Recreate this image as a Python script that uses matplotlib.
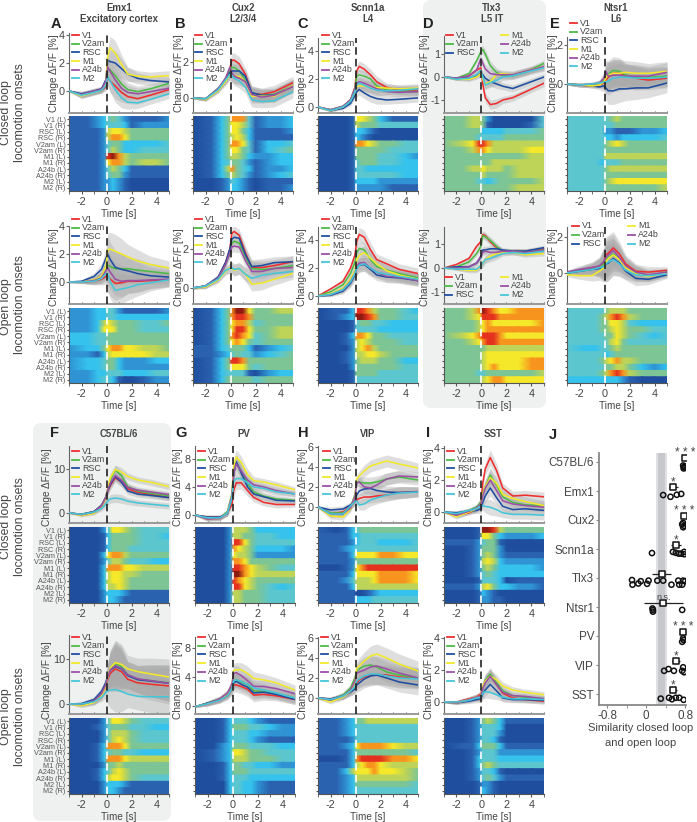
import numpy as np
import matplotlib
matplotlib.use("Agg")
import matplotlib.pyplot as plt
from matplotlib.colors import LinearSegmentedColormap
from matplotlib.lines import Line2D
from matplotlib.patches import FancyBboxPatch

plt.rcParams["font.family"] = ["Liberation Sans", "DejaVu Sans"]
plt.rcParams["axes.unicode_minus"] = False

W, H = 697, 822
TXT = "#444444"

SERIES = ["V1", "V2am", "RSC", "M1", "A24b", "M2"]
COLORS = ["#ee2e2f", "#4dbb47", "#1f4ea1", "#f2e92a", "#9b4fa5", "#45c6d8"]
ROWS = ["V1 (L)", "V1 (R)", "RSC (L)", "RSC (R)", "V2am (L)", "V2am (R)",
        "M1 (L)", "M1 (R)", "A24b (L)", "A24b (R)", "M2 (L)", "M2 (R)"]

# times the curves were read at
T = [-3, -2, -1, -0.4, -0.05, 0.1, 0.3, 0.7, 1.2, 1.7, 2.5, 3.5, 5]
# times the heatmap rows were read at, one hex digit per time
HT = [-3, -1.5, -0.7, -0.15, 0.1, 0.5, 1, 1.5, 2, 3, 4, 5]
HEAT_COLORS = ["#1f4e9e", "#2a62b0", "#2f93d4", "#35c3ee", "#5cc6cf", "#7cc596",
               "#bdd458", "#f5ea2a", "#f7941e", "#e6321f", "#8f1a12"]

A_CL = [[0, -.25, -.05, .05, .3, .95, .7, .35, -.1, -.4, -.55, -.3, .1],
        [0, -.3, -.05, .1, .5, 1.6, 1.5, 1.1, .5, .1, -.05, .15, .55],
        [0, -.2, 0, .15, .8, 2.2, 2.1, 2.0, 1.6, 1.2, .9, .75, .65],
        [0, -.35, -.1, .05, .6, 2.5, 3.1, 2.7, 1.9, 1.2, 1.05, 1, 1.1],
        [0, -.25, 0, .1, .7, 1.7, 1.4, .8, .2, -.1, -.2, -.05, .2],
        [0, -.3, -.1, .05, .4, 1, .7, .1, -.5, -.8, -.85, -.6, -.2]]
A_CL_BAND = [.05, .2, .2, .2, .3, .6, .8, .9, .7, .5, .4, .35, .35]
A_CL_HEAT = ["112345421112", "112344431222", "111267765555", "111268875555",
             "111245533334", "111246533444", "11129a865555", "111278865665",
             "111246531111", "111245521111", "111223210000", "111223210000"]
A_OL = [[0, 0, .05, .2, .4, .45, .2, -.1, -.05, .05, .05, .1, .15],
        [0, 0, .1, .4, .9, 1.2, 1.1, .95, .95, .95, .85, .75, .6],
        [0, .05, .4, .9, 1.7, 2, 1.6, 1.05, .9, .8, .6, .45, .35],
        [0, 0, .15, .4, 1.1, 2.3, 2.35, 2.2, 2, 1.8, 1.5, 1.25, 1],
        [0, 0, .1, .3, .8, 1, .7, .2, .05, .1, .1, .15, .2],
        [0, 0, .05, .25, .6, .6, 0, -.6, -.5, -.4, -.2, -.05, .15]]
A_OL_BAND = [.05, .1, .25, .4, .6, 1.2, 1.2, 1.2, 1.1, .9, .8, .6, .5]
A_OL_HEAT = ["223344211112", "223344333333", "223676555445", "223777555444",
             "334455555555", "334455555555", "233578877665", "221367777766",
             "233455322233", "233455322222", "223344433344", "223443100122"]

B_CL = [[0, -.05, .5, 1.0, 1.6, 2.1, 2.1, 1.9, 1.3, .25, .2, .35, .85],
        [0, -.05, .5, 1, 1.5, 1.7, 1.7, 1.5, 1, .2, .15, .2, .7],
        [0, -.05, .5, 1, 1.4, 1.5, 1.5, 1.5, 1.2, .3, .15, .15, .65],
        [0, -.1, .4, .9, 1.3, 1.3, 1.2, 1.2, .9, .1, .1, .1, .7],
        [0, -.05, .5, 1.1, 1.7, 1.4, 1.2, 1.1, .9, .2, .05, .15, .65],
        [0, -.05, .45, 1, 1.3, 1.25, 1.1, .95, .6, -.1, -.2, -.15, .35]]
B_CL_BAND = [.05, .1, .15, .2, .3, .4, .4, .4, .35, .4, .35, .35, .35]
B_CL_HEAT = ["013588841223", "013577641223", "013577531112", "013567631111",
             "013588741334", "013577541345", "013566532233", "013455421233",
             "013685431223", "013565421234", "001243210111", "001233210112"]
B_OL = [[0, .1, .5, 1.3, 2, 2.8, 2.9, 2.7, 1.8, 1.05, 1.05, 1.15, 1.35],
        [0, .1, .5, 1.2, 1.8, 2.3, 2.4, 2.3, 1.6, 1, .95, 1, 1.15],
        [0, .1, .55, 1.3, 2, 2.5, 2.6, 2.55, 1.7, 1.1, 1.15, 1.3, 1.35],
        [0, .05, .4, .85, 1.05, 1, .9, 1, .7, .2, .25, .45, .75],
        [0, .1, .5, 1.2, 1.8, 2.1, 2.15, 2.1, 1.4, .85, .85, 1, 1.05],
        [0, .1, .45, .9, 1, 1.05, .95, 1, .7, .5, .65, .75, .85]]
B_OL_BAND = [.05, .1, .15, .2, .25, .3, .3, .3, .35, .35, .35, .3, .3]
B_OL_HEAT = ["01358aa75566", "013589985555", "013578864555", "013579975566",
             "013589874566", "013578754555", "113455531234", "112345442345",
             "013599855555", "013577754555", "013444410233", "013555554555"]

C_CL = [[0, -.2, .05, .5, 1.4, 2.6, 2.9, 2.7, 2.3, 1.8, 1.4, 1.2, 1.2],
        [0, -.2, .05, .5, 1.3, 2.2, 2.3, 2.2, 2, 1.5, 1.2, 1.15, 1.1],
        [0, -.25, -.1, .25, .8, 1.1, 1.25, 1, .75, .6, .5, .55, .65],
        [0, -.25, 0, .45, 1.1, 1.5, 1.5, 1.5, 1.45, 1.4, 1.35, 1.3, 1.35],
        [0, -.2, .05, .5, 1.3, 1.7, 1.8, 1.7, 1.5, 1.3, 1.1, 1.05, 1.1],
        [0, -.25, 0, .4, 1.1, 1.6, 1.7, 1.55, 1.35, 1.2, 1.15, 1.2, 1.3]]
C_CL_BAND = [.05, .1, .1, .15, .25, .4, .4, .4, .4, .4, .3, .3, .3]
C_CL_HEAT = ["000177653111", "000165554444", "000133210000", "000132100000",
             "000188765544", "000155555444", "000155554432", "000145554433",
             "000144333333", "000144444433", "000133332222", "000122222111"]
C_OL = [[0, .5, 1.05, 2, 2.9, 3.9, 4.4, 4.2, 3.3, 2.6, 2.3, 1.9, 1.6],
        [0, .3, .8, 1.6, 2.4, 3.1, 3.4, 3.3, 2.6, 2.1, 1.85, 1.6, 1.3],
        [0, .05, .35, .9, 1.5, 2, 2.2, 2.25, 1.9, 1.5, 1.35, 1.3, 1.1],
        [0, .15, .55, 1.2, 1.8, 2.6, 2.9, 3.1, 2.7, 2.3, 1.8, 1.5, 1.2],
        [0, .1, .45, 1.05, 1.6, 2.1, 2.35, 2.4, 2, 1.7, 1.4, 1.35, 1.1],
        [0, .1, .45, 1, 1.6, 2, 2.2, 2.3, 2, 1.7, 1.55, 1.4, 1.2]]
C_OL_BAND = [.05, .1, .2, .3, .4, .5, .5, .5, .5, .4, .4, .4, .4]
C_OL_HEAT = ["011399865543", "0123aa985544", "000145544333", "000144443333",
             "001388755444", "001267655544", "000267865555", "001266776555",
             "001256665533", "000255555544", "000155554444", "000144444444"]

D_CL = [[0, -.1, .05, .3, .4, -.3, -.9, -1.2, -1.15, -1, -.9, -.65, -.27],
        [0, -.05, .15, .7, 1.1, 1.2, 1, .5, .2, .05, .05, .2, .6],
        [0, -.05, -.05, .05, .15, .1, -.05, -.2, -.3, -.4, -.5, -.3, 0],
        [0, -.1, -.1, 0, .15, -.1, -.3, -.2, .1, .15, .1, .25, .45],
        [0, -.05, .05, .3, .8, .6, .35, .15, .1, .1, .1, .25, .45],
        [0, -.1, -.05, .1, .3, 0, -.35, -.25, -.15, 0, .05, .2, .4]]
D_CL_BAND = [.02, .05, .1, .1, .15, .2, .2, .2, .2, .15, .15, .15, .15]
D_CL_HEAT = ["556652000004", "556651000014", "555533334445", "555444445555",
             "567998666666", "556887666677", "555555555566", "555555666666",
             "556676665666", "555565555666", "555443455556", "555555555666"]
D_OL = [[0, .15, .4, .9, 1.1, 1.4, 1.35, 1.1, .85, .7, .7, .7, .8],
        [0, .05, .25, .6, .9, 1.35, 1.3, 1.15, .9, .7, .7, .7, .75],
        [0, .05, .05, .2, .45, .75, .75, .8, .8, .75, .7, .7, .85],
        [0, -.05, -.1, -.1, .1, .2, .35, .5, .6, .65, .65, .55, .6],
        [0, 0, .05, .2, .5, .65, .7, .65, .65, .7, .7, .65, .75],
        [0, -.05, -.05, -.05, .1, .2, .35, .4, .5, .6, .65, .6, .7]]
D_OL_BAND = [.02, .05, .1, .1, .15, .15, .15, .15, .15, .1, .1, .1, .1]
D_OL_HEAT = ["5568a9877888", "556799988888", "555678777778", "555678888888",
             "567899987777", "556789988888", "555556666666", "555567777777",
             "555567777788", "555567877788", "555445555556", "555567887777"]

E_CL = [[0, -.05, -.1, -.05, .05, .2, .35, .55, .55, .45, .3, .2, .3],
        [0, -.05, -.05, .05, .2, .5, .5, .7, .65, .45, .35, .35, .4],
        [0, -.05, -.1, -.15, -.1, -.2, -.35, -.35, -.25, -.25, -.2, -.2, .05],
        [0, -.05, -.1, -.05, .1, .3, .45, .55, .55, .6, .55, .55, .65],
        [0, -.05, 0, .05, .3, .65, .4, .45, .45, .4, .4, .4, .6],
        [0, -.05, 0, .05, .1, .1, .15, .3, .35, .35, .3, .3, .35]]
E_CL_BAND = [.05, .1, .1, .15, .3, .6, .7, .7, .7, .6, .6, .5, .5]
E_CL_HEAT = ["444445655555", "444444555555", "444422111223", "444433233334",
             "444456765555", "444455555555", "444466666666", "444344455555",
             "444456666666", "444455555555", "444456777777", "444455555556"]
E_OL = [[.05, .15, .3, .35, .6, 1, 1.1, 1.4, 1.05, .5, .1, .05, .15],
        [0, .1, .2, .3, .5, .75, .85, 1.05, .8, .35, 0, -.15, .05],
        [0, .1, .2, .25, .35, .5, .55, .8, .55, .1, -.3, -.35, -.1],
        [-.1, -.15, -.15, .1, .3, .6, .8, 1.0, .75, .3, -.05, -.2, 0],
        [.05, .2, .3, .4, .65, .85, 1, 1.25, .85, .4, .05, -.1, .05],
        [0, .1, .2, .3, .35, .5, .6, .75, .5, .15, -.1, -.15, -.05]]
E_OL_BAND = [.1, .2, .3, .5, .8, 1, 1, .9, .7, .5, .4, .3, .2]
E_OL_HEAT = ["444456665555", "444568986555", "444557764333", "444556765544",
             "444455765434", "444446754444", "433445655555", "444434555555",
             "444567866555", "444455665323", "444568986555", "333333321000"]

F_CL = [[0, -.3, .3, 1.7, 3.5, 5, 6.2, 8, 7, 5.5, 4.7, 4.3, 3.5],
        [0, -.3, .3, 1.7, 3.7, 5.5, 7.5, 9.8, 8.5, 6, 5, 4.5, 3.9],
        [0, -.3, .3, 1.7, 3.5, 5, 6.5, 8.3, 7, 5, 4.3, 4, 3.5],
        [0, -.6, -.1, 1.4, 3.3, 5.5, 8, 9.9, 9.3, 8.3, 7.5, 7, 6],
        [0, -.4, .2, 1.6, 3.6, 5.3, 6.8, 8.5, 7.5, 5.8, 5.2, 4.8, 4.2],
        [0, -.3, .2, 1, 2, 2.7, 3.2, 3.4, 3.2, 2.7, 2.3, 2, 1.6]]
F_CL_BAND = [.1, .3, .4, .6, .8, 1, 1, 1, 1, .8, .7, .7, .7]
F_CL_HEAT = ["000237765444", "000135555443", "000135555444", "000135554444",
             "000378865555", "000246654433", "000388877666", "000367766555",
             "000367765555", "000366765555", "000233321111", "000233211111"]
F_OL = [[0, -.1, .5, 2, 4, 5.5, 6.8, 7.8, 7.2, 5.5, 4.7, 4.4, 4],
        [0, -.2, .6, 2.3, 4.3, 6, 7.8, 9, 8.3, 6.5, 5.5, 5.2, 4.7],
        [0, .1, 1, 2.8, 4.8, 6.3, 7.5, 8.3, 7.8, 6.3, 5.4, 5.1, 4.6],
        [0, -.4, .3, 1.8, 4, 6, 8, 9.2, 8.8, 7.8, 7.2, 6.7, 6],
        [0, -.1, .7, 2.3, 4.3, 6, 7.6, 8.5, 7.9, 6.5, 5.6, 5.2, 4.6],
        [0, 0, .5, 1.5, 2.5, 3, 3.1, 3.2, 2.8, 2.2, 1.7, 1.6, 1.6]]
F_OL_BAND = [.1, .4, .6, .9, 1.2, 3, 4, 5, 4.5, 3, 3, 3.5, 4]
F_OL_HEAT = ["000247765444", "001245554433", "000246665444", "000246765444",
             "001388875555", "001345544333", "001388876666", "000255655555",
             "001346765555", "001367765444", "000233321111", "000233211111"]

G_CL = [[0, -.3, -.3, .3, 1.5, 3.5, 4.6, 4.6, 3.5, 2.5, 1.8, 1.5, 1.5],
        [0, -.5, -.4, .5, 3, 6.5, 7.5, 6.3, 4.5, 3.3, 2.7, 2.3, 2.1],
        [0, -.3, -.3, .2, 2.5, 6, 7.6, 6, 4, 3, 2.6, 2.1, 2],
        [0, -.6, -.5, .3, 3, 7, 8.3, 7.5, 5.8, 4.9, 4.7, 4.3, 3.6],
        [0, -.6, -.5, .3, 2.8, 6, 7.3, 6.3, 5, 4.3, 4, 3.5, 3],
        [0, -.4, -.4, .3, 2.4, 4.8, 5.2, 5.2, 4.6, 4, 3.8, 3.3, 3]]
G_CL_BAND = [.1, .3, .3, .4, .8, 1, 1, .9, .8, .6, .5, .5, .4]
G_CL_HEAT = ["000266653333", "000266554433", "000299754444", "000287653332",
             "000276652222", "000288755555", "000299876544", "0002aa876666",
             "000298765555", "000299765434", "000266555444", "000266555444"]
G_OL = [[-.1, .3, .8, 1.4, 2.2, 2.9, 2.9, 2.7, 2.3, 1.5, 1.6, 1.4, .9],
        [-.1, .4, 1, 1.7, 2.7, 3.5, 3.6, 3.3, 3, 2.1, 2, 1.7, 1.1],
        [-.1, .4, .9, 1.5, 2.4, 3.2, 3.4, 3, 2.6, 1.8, 1.9, 1.6, .9],
        [-.1, .3, .9, 1.7, 3, 4.9, 5, 5, 4.5, 3.8, 3.6, 3.2, 2.2],
        [-.1, .3, 1, 1.8, 3, 4.5, 4.6, 4.2, 3.5, 2.7, 2.7, 2.4, 1.7],
        [-.1, .3, .8, 1.4, 2.3, 3.5, 3.6, 3.4, 3, 2.5, 2.2, 1.8, 1.1]]
G_OL_BAND = [.1, .3, .4, .5, .7, 1, 1, 1, 1, .9, .8, .7, .7]
G_OL_HEAT = ["001344432111", "001355544322", "001344433222", "001344432111",
             "002355544433", "012377655444", "012366655544", "001355443322",
             "001355544444", "001344433333", "000344332111", "000344332111"]

H_CL = [[0, -.7, -.5, .1, .5, .7, .85, 1, 1, 1.1, 1.2, 1.45, 1.55],
        [0, -.6, -.6, 0, 1.2, 2.5, 2.5, 2.4, 2.4, 2.5, 2.8, 3, 2.7],
        [0, -.3, -.2, .2, .6, 1.2, 1.6, 1.8, 1.85, 1.65, 1.5, 1.45, 1.5],
        [0, -.9, -1, -.2, 1, 2.8, 3.1, 3.6, 4.1, 4.3, 4.6, 4.3, 3.9],
        [0, -.7, -.7, -.1, 1, 2.4, 2.5, 2, 1.9, 2.2, 2.8, 3.1, 3],
        [0, -.7, -.7, .1, .5, .6, .2, .3, .7, .9, 1.2, 1.4, 1.5]]
H_CL_BAND = [.1, .3, .3, .3, .4, .4, .5, .6, .6, .6, .6, .6, .5]
H_CL_HEAT = ["101345555555", "111334444444", "111234443334", "112344444444",
             "111377778877", "111255555555", "001278999999", "111377778887",
             "112466678887", "111366666666", "111100123333", "111133344444"]
H_OL = [[0, -.1, .2, .6, 1, 1.5, 1.8, 2.1, 2.3, 2.35, 2.3, 2.1, 2],
        [0, -.2, .3, 1, 2, 2.7, 2.9, 3.2, 3.3, 3.1, 2.6, 2.3, 2],
        [0, -.1, .2, .6, .9, 1.3, 1.5, 1.9, 2.2, 2.3, 2, 1.6, 1.3],
        [0, -.4, .1, .7, 1.6, 3, 3.2, 3.7, 4.2, 4.4, 4, 3.4, 2.7],
        [0, -.2, .2, .8, 1.7, 2.5, 2.6, 2.8, 3.1, 3.2, 2.9, 2.5, 2],
        [0, -.15, .2, .7, 1.1, 1.7, 1.9, 2.2, 2.4, 2.4, 2.2, 2, 1.9]]
H_OL_BAND = [.1, .2, .3, .4, .5, .7, .8, .9, 1, 1, 1, 1, 1]
H_OL_HEAT = ["112355666666", "112344444444", "112344444444", "111244444444",
             "112378888766", "111355555554", "001389999887", "111367887666",
             "113677787765", "112366666665", "112355555554", "112344444444"]

I_CL = [[0, -.2, -.05, .2, .6, 1.8, 2.7, 3.4, 2.6, 1.5, 1, 1.05, .95],
        [0, -.1, .1, .3, .6, 1.2, 1.6, 2.3, 1.7, .95, .6, .45, .4],
        [0, -.05, .05, .1, .2, .6, 1, 1.5, .9, .35, .15, .2, .1],
        [0, -.3, 0, .2, .5, 1.1, 1.6, 2.15, 1.8, 1.1, .85, .65, .4],
        [0, -.2, .05, .25, .5, 1, 1.5, 2, 1.35, .7, .5, .4, .3],
        [0, -.1, .1, .2, .4, .4, .35, .3, .15, -.05, -.15, -.15, -.2]]
I_CL_BAND = [.05, .15, .15, .2, .3, .3, .4, .5, .4, .3, .3, .3, .3]
I_CL_HEAT = ["0001aa965555", "000177532223", "111245510000", "001255520000",
             "001256521111", "001267632222", "001256533332", "001245433333",
             "000144430111", "111267533221", "000132100000", "000122110000"]
I_OL = [[0, 0, .2, .3, .5, .9, 1.3, 1.7, 1.1, .55, .25, .15, .05],
        [0, -.05, .15, .25, .35, .9, 1.35, 1.75, 1.2, .7, .4, .3, .2],
        [0, -.05, .05, .15, .2, .5, .75, 1.1, .7, .25, .15, .15, .1],
        [0, -.05, .15, .3, .35, 1, 1.3, 1.6, 1.4, 1, .75, .6, .45],
        [0, -.05, .15, .3, .35, .85, 1.2, 1.6, 1.1, .6, .4, .35, .2],
        [0, 0, .1, .25, .3, .55, .65, .6, .45, .3, .2, .2, .15]]
I_OL_BAND = [.05, .1, .15, .2, .25, .35, .4, .4, .3, .25, .2, .2, .2]
I_OL_HEAT = ["001256531111", "001244430000", "001244420000", "001244310000",
             "011355531111", "001244422222", "001344433333", "001356544444",
             "001244310000", "001245421111", "000122100000", "000132100000"]

# panel J
J_LABELS = ["C57BL/6", "Emx1", "Cux2", "Scnn1a", "Tlx3", "Ntsr1", "PV", "VIP", "SST"]
J_MEAN = [.80, .56, .78, .61, .32, .35, .76, .61, .56]
J_ERR = [.02, .1, .03, .1, .2, .4, .03, .08, .08]
J_STARS = ["* * *", "*", "* * *", "*", "", "n.s.", "* * *", "*", "*"]
J_POINTS = [
    [.76, .78, .80, .79, .77],
    [.35, .5, .63, .72],
    [.76, .74, .78, .76],
    [.12, .55, .61, .67, .72, .78, .78],
    [-.29, -.28, -.16, -.11, .02, .05, .23, .35, .52, .66, .68, .74, .76, .80],
    [.13, .14, .14, .74],
    [.76, .74, .77],
    [.37, .46, .57, .76, .74, .78],
    [.30, .47, .53, .61, .68, .77],
]
J_POINT_ROW = [
    [.12, .17, .2, .15, .22],
    [.14, .2, .13, .1],
    [.1, .15, .2, .25],
    [.14, .1, .13, .16, .16, .1, .18],
    [.07, .23, .19, .11, .2, .09, .09, .09, .23, .09, .23, .23, .09, .11],
    [.05, .16, .1, .1],
    [.08, .2, .14],
    [.2, .14, .2, .08, .2, .25],
    [.16, .13, .18, .13, .13, .2],
]


def rect(left, top, right, bottom):
    return [left / W, 1 - bottom / H, (right - left) / W, (bottom - top) / H]


def put(fig, x, y, s, **kw):
    kw.setdefault("color", TXT)
    kw.setdefault("ha", "center")
    kw.setdefault("va", "center")
    fig.text(x / W, 1 - y / H, s, **kw)


def legend(fig, x, y, split=False):
    for i, (name, col) in enumerate(zip(SERIES, COLORS)):
        if split:
            lx, ly = x[i // 3], y + 8.8 * (i % 3)
        else:
            lx, ly = x, y + 8.7 * i
        fig.add_artist(Line2D([lx / W, (lx + 6.5) / W], [1 - ly / H, 1 - ly / H],
                              color=col, lw=1.3, zorder=5))
        put(fig, lx + 10, ly, name, ha="left", fontsize=6.4)


def line_panel(fig, left, top, bottom, ticks, tick_px, series, band):
    right = left + 100
    ax = fig.add_axes(rect(left, top, right, bottom))
    ax.patch.set_visible(False)
    per_unit = (tick_px[1] - tick_px[0]) / (ticks[1] - ticks[0])
    ax.set_ylim(ticks[0] + (bottom - tick_px[0]) / per_unit,
                ticks[0] + (top - tick_px[0]) / per_unit)
    ax.set_xlim(-3, 5)
    for s in series:
        s = np.array(s)
        ax.fill_between(T, s - band, s + band, color="#a6a6a6", alpha=.36, lw=0, zorder=1)
    for s, col in zip(series, COLORS):
        ax.plot(T, s, color=col, lw=1.15, zorder=3)
    ax.axvline(0, color="#222222", lw=1.2, ls=(0, (4.5, 2.5)), zorder=4)
    ax.spines[["top", "right"]].set_visible(False)
    ax.spines["left"].set_color("#666666")
    ax.spines["bottom"].set_color("#999999")
    ax.spines["bottom"].set_linewidth(1.4)
    ax.set_yticks(ticks)
    ax.set_xticks(range(-3, 6))
    ax.tick_params(axis="x", labelbottom=False, length=1.5, direction="in", color="#666666")
    ax.tick_params(axis="y", labelsize=7.8, length=2, pad=1, color="#666666", labelcolor=TXT)
    return ax


def heat_panel(fig, left, top, bottom, rows, cmap, names=False):
    ax = fig.add_axes(rect(left, top, left + 100, bottom))
    vals = np.array([[int(c, 16) for c in r] for r in rows], dtype=float)
    edges = np.repeat(np.arange(13), 2)[1:-1]
    X, Y = np.meshgrid(HT, edges)
    ax.pcolormesh(X, Y, np.repeat(vals, 2, axis=0), shading="gouraud", cmap=cmap,
                  vmin=0, vmax=10, rasterized=True)
    ax.set_xlim(-3, 5)
    ax.set_ylim(12, 0)
    ax.axvline(0, color="white", lw=1.2, ls=(0, (4.5, 2.5)))
    ax.spines[["top", "right"]].set_visible(False)
    ax.spines[["left", "bottom"]].set_color("#555555")
    ax.set_xticks([-2, 0, 2, 4])
    ax.set_xticks([-3, -1, 1, 3, 5], minor=True)
    ax.set_yticks(np.arange(12) + .5)
    ax.set_yticklabels(ROWS if names else [])
    ax.tick_params(axis="x", which="both", length=2, pad=2, labelsize=7.8,
                   color="#555555", labelcolor=TXT)
    ax.tick_params(axis="y", length=1.5, pad=1, labelsize=5.2, color="#555555", labelcolor="#555555")
    ax.set_xlabel("Time [s]", fontsize=7.2, color=TXT, labelpad=1.5)
    return ax


def main():
    fig = plt.figure(figsize=(W / 100, H / 100), dpi=100)
    cmap = LinearSegmentedColormap.from_list("heat", HEAT_COLORS)

    for box in [(423, 0, 546, 408), (33, 423, 171, 821)]:
        fig.add_artist(FancyBboxPatch((box[0] / W, 1 - box[3] / H),
                                      (box[2] - box[0]) / W, (box[3] - box[1]) / H,
                                      boxstyle="round,pad=0,rounding_size=0.012",
                                      mutation_aspect=W / H, fc="#eff1f0", ec="none", zorder=-5,
                                      transform=fig.transFigure))

    # columns of the two rows: left px, t=0 sits 37.5 px on
    top_row = [
        (69, A_CL, A_CL_BAND, A_CL_HEAT, [0, 2, 4], [91, 63, 35], 33, A_OL, A_OL_BAND, A_OL_HEAT, [0, 2, 4], [282, 254, 226], 226),
        (193, B_CL, B_CL_BAND, B_CL_HEAT, [0, 2], [98, 62], 38, B_OL, B_OL_BAND, B_OL_HEAT, [0, 2], [288, 249], 227),
        (318, C_CL, C_CL_BAND, C_CL_HEAT, [0, 2, 4], [107, 79, 52], 38, C_OL, C_OL_BAND, C_OL_HEAT, [0, 2, 4], [296, 268, 240], 227),
        (444, D_CL, D_CL_BAND, D_CL_HEAT, [-1, 0, 1], [100, 77, 54], 36, D_OL, D_OL_BAND, D_OL_HEAT, [-1, 0, 1], [292, 268, 244], 227),
        (567, E_CL, E_CL_BAND, E_CL_HEAT, [0, 2], [84, 45], 37, E_OL, E_OL_BAND, E_OL_HEAT, [0, 2], [273, 237], 227),
    ]
    for i, (left, cl, cb, ch, ct, cp, ctop, ol, ob, oh, ot, op, otop) in enumerate(top_row):
        line_panel(fig, left, ctop, 113, ct, cp, cl, np.array(cb))
        heat_panel(fig, left, 116, 191, ch, cmap, names=i == 0)
        line_panel(fig, left, otop, 304, ot, op, ol, np.array(ob))
        heat_panel(fig, left, 308, 383, oh, cmap, names=i == 0)

    bottom_row = [
        (69, F_CL, F_CL_BAND, F_CL_HEAT, [0, 10], [513, 469], F_OL, F_OL_BAND, F_OL_HEAT, [0, 10], [704, 659], 635),
        (195, G_CL, G_CL_BAND, G_CL_HEAT, [0, 4, 8], [515, 487, 458], G_OL, G_OL_BAND, G_OL_HEAT, [0, 4, 8], [706, 677, 648], 637),
        (318, H_CL, H_CL_BAND, H_CL_HEAT, [0, 2, 4, 6], [507, 487, 467, 447], H_OL, H_OL_BAND, H_OL_HEAT, [0, 2, 4, 6], [698, 678, 658, 638], 637),
        (444, I_CL, I_CL_BAND, I_CL_HEAT, [0, 2, 4], [512, 480, 447], I_OL, I_OL_BAND, I_OL_HEAT, [0, 2, 4], [702, 670, 638], 637),
    ]
    for i, (left, cl, cb, ch, ct, cp, ol, ob, oh, ot, op, otop) in enumerate(bottom_row):
        line_panel(fig, left, 446, 523, ct, cp, cl, np.array(cb))
        heat_panel(fig, left, 527, 603, ch, cmap, names=i == 0)
        line_panel(fig, left, otop, 714, ot, op, ol, np.array(ob))
        heat_panel(fig, left, 718, 794, oh, cmap, names=i == 0)

    # legends
    for x in (72, 195, 322):
        legend(fig, x, 35)
        legend(fig, x, 219)
    legend(fig, (446, 501), 35, split=True)
    legend(fig, (445, 501), 277, split=True)
    legend(fig, 570, 23)
    legend(fig, (572, 628), 226, split=True)
    for x, x2 in ((72, 72), (198, 198), (323, 321), (447, 447)):
        legend(fig, x, 451)
        legend(fig, x2, 637)

    # y labels
    for x in (54, 179, 302, 425, 553):
        put(fig, x, 73, "Change ΔF/F [%]", rotation=90, fontsize=7.3)
        put(fig, x, 267, "Change ΔF/F [%]", rotation=90, fontsize=7.3)
    for x in (47, 178, 303, 429):
        put(fig, x, 487, "Change ΔF/F [%]", rotation=90, fontsize=7.3)
        put(fig, x, 680, "Change ΔF/F [%]", rotation=90, fontsize=7.3)

    # titles and panel letters
    for x, a, b in ((119, "Emx1", "Excitatory cortex"), (243, "Cux2", "L2/3/4"),
                    (368, "Scnn1a", "L4"), (492, "Tlx3", "L5 IT"), (616, "Ntsr1", "L6")):
        put(fig, x, 8, a, fontsize=6.9, fontweight="bold")
        put(fig, x, 19.5, b, fontsize=6.9, fontweight="bold")
    for x, a in ((119, "C57BL/6"), (244, "PV"), (368, "VIP"), (493, "SST")):
        put(fig, x, 434, a, fontsize=6.9, fontweight="bold")
    for x, y, s in ((56, 24, "A"), (180, 24, "B"), (303, 24, "C"), (428, 24, "D"), (555, 24, "E"),
                    (55, 433, "F"), (181, 433, "G"), (303, 433, "H"), (428, 433, "I"), (553, 435, "J")):
        put(fig, x, y, s, fontsize=10.5, fontweight="bold", color="#222222")

    for y1, y2, a, b in ((113, 113, "Closed loop", "locomotion onsets"),
                         (307, 305, "Open loop", "locomotion onsets"),
                         (527, 527, "Closed loop", "locomotion onsets"),
                         (717, 717, "Open loop", "locomotion onsets")):
        put(fig, 6, y1, a, rotation=90, fontsize=8.8)
        put(fig, 20, y2, b, rotation=90, fontsize=8.8)

    # panel J
    ax = fig.add_axes(rect(599, 453, 686, 705))
    ax.patch.set_visible(False)
    ax.set_xlim(-.8 - 9 / 53.75, (686 - 642) / 53.75)
    ax.set_ylim((705 - 462) / 29, (453 - 462) / 29)
    ax.axvspan(.2, .43, color="#dfe0e3", lw=0, zorder=0)
    ax.axvspan(.25, .38, color="#c6c8cb", lw=0, zorder=0)
    for r, (xs, ys) in enumerate(zip(J_POINTS, J_POINT_ROW)):
        ax.scatter(xs, np.array(ys) + r, s=14, fc="none", ec="#111111", lw=1.1, zorder=2)
        ax.errorbar(J_MEAN[r], r - .15, xerr=J_ERR[r], color="#222222", lw=.9, zorder=3)
        ax.scatter(J_MEAN[r], r - .15, s=20, marker="s", fc="white", ec="#111111", lw=1.1, zorder=4)
        if J_STARS[r] == "n.s.":
            ax.text(J_MEAN[r], r - .34, "n.s.", fontsize=6.5, color=TXT, ha="center", va="center", zorder=5)
        elif J_STARS[r]:
            ax.text(J_MEAN[r], r - .31, J_STARS[r], fontsize=8.5, color=TXT, ha="center", va="center", zorder=5)
    ax.spines[["top", "right"]].set_visible(False)
    ax.spines[["left", "bottom"]].set_color("#888888")
    ax.spines[["left", "bottom"]].set_linewidth(1.3)
    ax.set_yticks(range(9))
    ax.set_yticklabels(J_LABELS)
    ax.set_xticks([-.8, 0, .8])
    ax.set_xticklabels(["-0.8", "0", "0.8"])
    ax.set_xticks([-.4, .4], minor=True)
    ax.tick_params(axis="both", which="both", length=2, color="#888888", labelcolor=TXT, labelsize=8.4, pad=1.5)
    put(fig, 641, 728, "Similarity closed loop", fontsize=8)
    put(fig, 641, 743, "and open loop", fontsize=8)

    fig.savefig("out.png", dpi=100)
    plt.close(fig)


main()
